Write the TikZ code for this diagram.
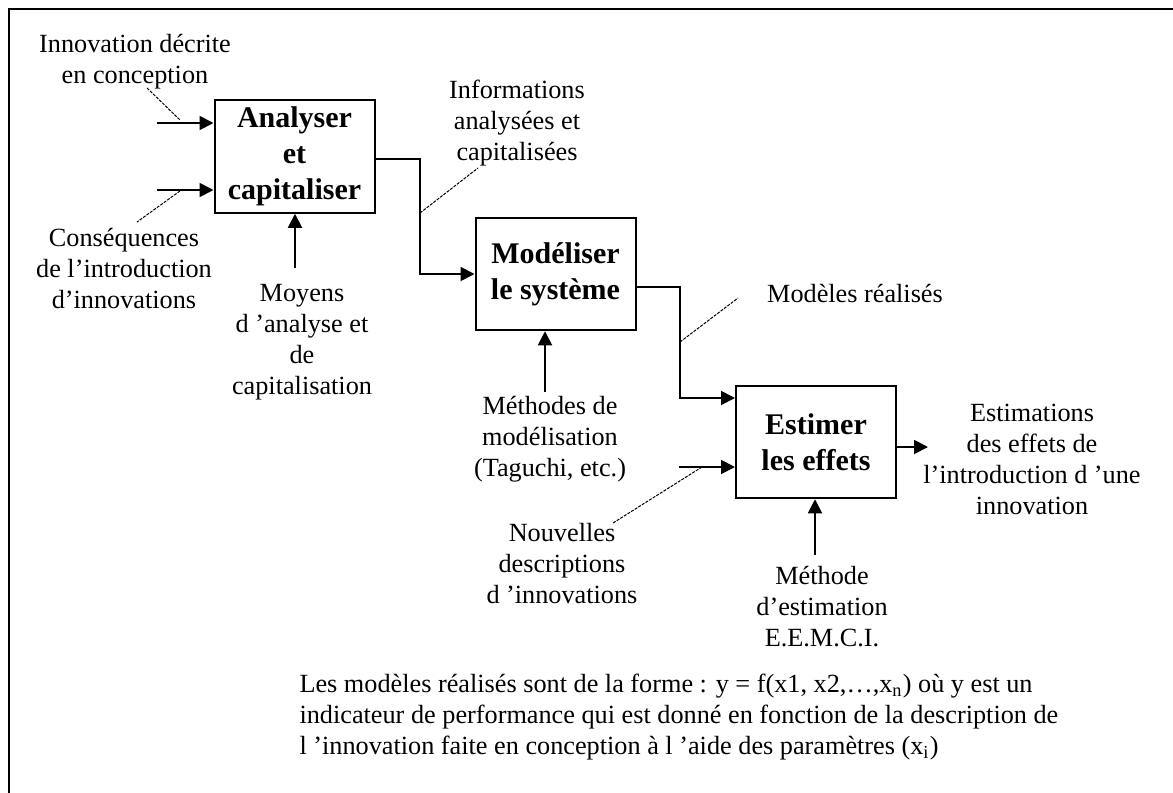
\documentclass[tikz,border=0pt]{standalone}
\usepackage{fontspec}
\setmainfont{Liberation Serif}
\usetikzlibrary{arrows.meta}

\begin{document}
\begin{tikzpicture}[x=0.4pt,y=-0.4pt,
  box/.style={draw,line width=0.8pt,minimum width=64pt,minimum height=45pt,inner sep=0pt,
    align=center,font=\fontsize{12}{14.4}\selectfont\bfseries},
  lbl/.style={align=center,inner sep=0pt,font=\fontsize{10.5}{12.4}\selectfont},
  flow/.style={line width=0.75pt,-{Triangle[length=5.6pt,width=5.6pt]}},
  wire/.style={line width=0.75pt},
  leader/.style={line width=0.4pt,dash pattern=on 1.2pt off 0.5pt}]
\useasboundingbox (0,0) rectangle (1173,793);

% Frame
\draw[line width=0.9pt] (9,793) -- (9,9) -- (1173,9);

% Activities
\node[box] (A) at (294.5,156.5) {Analyser\\et\\capitaliser};
\node[box] (M) at (555.5,274) {Modéliser\\le système};
\node[box] (E) at (816,442) {Estimer\\les effets};

% Labels
\node[lbl] (lInno) at (135,62) {Innovation décrite\\en conception};
\node[lbl] (lCons) at (124,268) {Conséquences\\de l’introduction\\d’innovations};
\node[lbl] (lMoyens) at (302,342) {Moyens\\d ’analyse et\\de\\capitalisation};
\node[lbl] (lInfo) at (517,123) {Informations\\analysées et\\capitalisées};
\node[lbl] (lMod) at (855,293) {Modèles réalisés};
\node[lbl] (lMeth) at (550,439) {Méthodes de\\modélisation\\(Taguchi, etc.)};
\node[lbl] (lNouv) at (562,564) {Nouvelles\\descriptions\\d ’innovations};
\node[lbl] (lEst) at (1032,459) {Estimations\\des effets de\\l’introduction d ’une\\innovation};
\node[lbl] (lEem) at (822,607) {Méthode\\d’estimation\\E.E.M.C.I.};

% Free ends and bends
\coordinate (in1) at (157,123);
\coordinate (in2) at (157,190);
\coordinate (cA) at (295,268);
\coordinate (jA) at (420,159);
\coordinate (jM) at (680,287);
\coordinate (eA) at (680,398);
\coordinate (in3) at (679,467);
\coordinate (cM) at (545,392);
\coordinate (cE) at (815,555);
\coordinate (out) at (928,447);

% Connectors
\draw[flow] (in1) -- (in1 -| A.west);
\draw[flow] (in2) -- (in2 -| A.west);
\draw[flow] (cA) -- (cA |- A.south);
\draw[flow] (A.east |- jA) -- (jA) |- (M.west);
\draw[flow] (M.east |- jM) -- (jM) -- (eA) -- (eA -| E.west);
\draw[flow] (cM) -- (cM |- M.south);
\draw[flow] (in3) -- (in3 -| E.west);
\draw[flow] (cE) -- (cE |- E.south);
\draw[flow] (E.east |- out) -- (out);

% Leader lines
\draw[leader] (147,88) -- (180,120);
\draw[leader] (180,191) -- (137,222);
\draw[leader] (420,213) -- (478,168);
\draw[leader] (680,342) -- (738,298);
\draw[leader] (702,467) -- (613,523);

% Note
\node[lbl,align=left,anchor=west] (note) at (299,717)
  {Les modèles réalisés sont de la forme : y = f(x1, x2,…,x\textsubscript{n}) où y est un\\
   indicateur de performance qui est donné en fonction de la description de\\
   l ’innovation faite en conception à l ’aide des paramètres (x\textsubscript{i})};

\end{tikzpicture}
\end{document}
